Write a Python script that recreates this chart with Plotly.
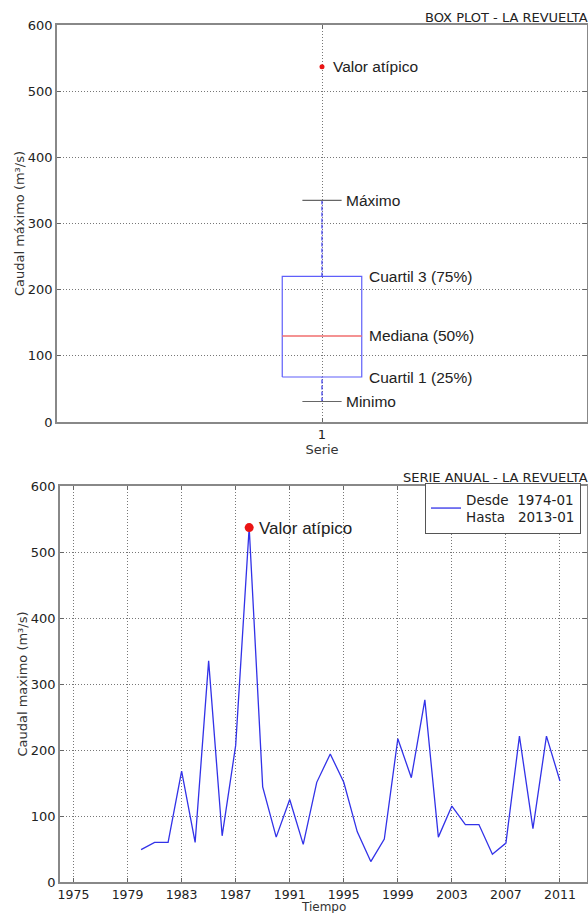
import plotly.graph_objects as go

# Annual maximum discharge series, La Revuelta station (m³/s)
years = list(range(1980, 2012))
caudal = [49, 60, 60, 168, 60, 335, 70, 207, 537, 144,
          68, 125, 57, 151, 194, 151, 76, 31, 65, 217,
          158, 276, 68, 115, 87, 87, 42, 59, 221, 81,
          221, 153]

# Box-plot statistics
stat_min = 31
stat_q1 = 68
stat_median = 130
stat_q3 = 220
stat_max = 335
outlier_year = 1988
outlier_value = 537

stat_labels = {
    "outlier": "Valor atípico",
    "max": "Máximo",
    "q3": "Cuartil 3 (75%)",
    "median": "Mediana (50%)",
    "q1": "Cuartil 1 (25%)",
    "min": "Minimo",
}

x_ticks_box = [1]
y_ticks = [0, 100, 200, 300, 400, 500, 600]
year_ticks = list(range(1975, 2012, 4))

W, H = 588, 913
BOX_HALF = 0.075
CAP_HALF = 0.037
BLUE_BOX = "rgb(95,95,250)"
BLUE_LINE = "rgb(50,50,232)"
RED = "rgb(235,20,20)"
TEXT = "#222222"
TITLE_GREY = "#333333"
FONT_AX = "DejaVu Sans"
FONT_ANN = "Liberation Sans"


def px_x(p):
    return p / W


def px_y(p):
    return 1 - p / H


fig = go.Figure()

# ---- Box plot (top panel) ----
c = 1
fig.add_trace(go.Scatter(
    x=[c - BOX_HALF, c + BOX_HALF, c + BOX_HALF, c - BOX_HALF, c - BOX_HALF],
    y=[stat_q1, stat_q1, stat_q3, stat_q3, stat_q1],
    mode="lines", line=dict(color=BLUE_BOX, width=1.2),
    showlegend=False, hoverinfo="skip", xaxis="x", yaxis="y"))
for lo, hi in ((stat_q3, stat_max), (stat_min, stat_q1)):
    fig.add_trace(go.Scatter(
        x=[c, c], y=[lo, hi], mode="lines",
        line=dict(color=BLUE_LINE, width=1.2, dash="4px,2px"),
        showlegend=False, hoverinfo="skip", xaxis="x", yaxis="y"))
fig.add_trace(go.Scatter(
    x=[c - BOX_HALF, c + BOX_HALF], y=[stat_median, stat_median],
    mode="lines", line=dict(color="rgb(240,110,110)", width=1.5),
    showlegend=False, hoverinfo="skip", xaxis="x", yaxis="y"))
for v in (stat_max, stat_min):
    fig.add_trace(go.Scatter(
        x=[c - CAP_HALF, c + CAP_HALF], y=[v, v], mode="lines",
        line=dict(color="#666666", width=1.2),
        showlegend=False, hoverinfo="skip", xaxis="x", yaxis="y"))
fig.add_trace(go.Scatter(
    x=[c], y=[outlier_value], mode="markers",
    marker=dict(color=RED, size=5),
    showlegend=False, hoverinfo="skip", xaxis="x", yaxis="y"))

ann_font = dict(family=FONT_ANN, size=15.5, color=TEXT)
box_ann = [
    (c, outlier_value, stat_labels["outlier"], 9),
    (c + CAP_HALF, stat_max, stat_labels["max"], 2),
    (c + BOX_HALF, stat_q3, stat_labels["q3"], 5),
    (c + BOX_HALF, stat_median, stat_labels["median"], 5),
    (c + BOX_HALF, stat_q1, stat_labels["q1"], 5),
    (c + CAP_HALF, stat_min, stat_labels["min"], 2),
]
annotations = []
for ax_x, ax_y, txt, shift in box_ann:
    annotations.append(dict(
        x=ax_x, y=ax_y, xref="x", yref="y", text=txt, showarrow=False,
        xanchor="left", yanchor="middle", xshift=shift, font=ann_font))

# ---- Annual series (bottom panel) ----
fig.add_trace(go.Scatter(
    x=years, y=caudal, mode="lines",
    line=dict(color=BLUE_LINE, width=1.3),
    name="Desde\u00a0\u00a01974-01<br>Hasta\u00a0\u00a0\u00a02013-01",
    showlegend=True, hoverinfo="skip", xaxis="x2", yaxis="y2"))
fig.add_trace(go.Scatter(
    x=[outlier_year], y=[outlier_value], mode="markers",
    marker=dict(color=RED, size=9),
    showlegend=False, hoverinfo="skip", xaxis="x2", yaxis="y2"))
annotations.append(dict(
    x=outlier_year, y=outlier_value, xref="x2", yref="y2",
    text=stat_labels["outlier"], showarrow=False, xanchor="left",
    yanchor="middle", xshift=8, yshift=-1,
    font=dict(family=FONT_ANN, size=17, color=TEXT)))

# Panel titles
annotations.append(dict(
    x=px_x(590), y=px_y(17), xref="paper", yref="paper",
    text="BOX PLOT - LA REVUELTA",
    showarrow=False, xanchor="right", yanchor="middle",
    font=dict(family=FONT_AX, size=13, color=TEXT)))
annotations.append(dict(
    x=px_x(590), y=px_y(477), xref="paper", yref="paper",
    text="SERIE ANUAL - LA REVUELTA",
    showarrow=False, xanchor="right", yanchor="middle",
    font=dict(family=FONT_AX, size=13, color=TEXT)))

tick_font = dict(family=FONT_AX, size=13, color=TEXT)
title_font = dict(family=FONT_AX, size=13, color=TITLE_GREY)

# Time-axis title sits just below the year labels, at the page's lower edge
annotations.append(dict(
    x=0.5, y=px_y(907), xref="x2 domain", yref="paper", text="Tiempo",
    showarrow=False, xanchor="center", yanchor="middle",
    font=dict(family=FONT_AX, size=12, color=TITLE_GREY)))

axis_common = dict(
    showline=True, linecolor="#888888", linewidth=1.5, mirror="ticks",
    ticks="inside", ticklen=4, tickcolor="#666666",
    gridcolor="#777777", griddash="1px,2px", gridwidth=1,
    zeroline=False, automargin=False,
)


def axis_title(text, standoff):
    return dict(text=text, standoff=standoff, font=title_font)


fig.update_layout(
    template="none",
    width=W, height=H,
    margin=dict(l=0, r=0, t=0, b=0, pad=0),
    paper_bgcolor="white", plot_bgcolor="white",
    xaxis=dict(domain=[px_x(57), px_x(587)], range=[0.5, 1.5],
               tickvals=x_ticks_box, ticktext=[str(v) for v in x_ticks_box],
               showgrid=True, anchor="y", tickfont=tick_font,
               title=axis_title("Serie", 2), **axis_common),
    yaxis=dict(domain=[px_y(422), px_y(25)], range=[0, 600],
               tickvals=y_ticks, showgrid=True, anchor="x",
               tickfont=tick_font,
               title=axis_title("Caudal máximo (m³/s)", 0), **axis_common),
    xaxis2=dict(domain=[px_x(60), px_x(587)], range=[1974, 2013],
                tickvals=year_ticks, showgrid=True, anchor="y2",
                tickfont=dict(family=FONT_AX, size=12.5, color=TEXT),
                **axis_common),
    yaxis2=dict(domain=[px_y(882), px_y(486)], range=[0, 600],
                tickvals=y_ticks, showgrid=True, anchor="x2",
                tickfont=tick_font,
                title=axis_title("Caudal maximo (m³/s)", 0), **axis_common),
    legend=dict(x=px_x(581), y=px_y(483), xanchor="right", yanchor="top",
                bordercolor="#555555", borderwidth=1, bgcolor="white",
                font=dict(family=FONT_AX, size=13.5, color=TEXT),
                itemwidth=30, tracegroupgap=0),
    annotations=annotations,
    showlegend=True,
)

fig.write_html("out.html")
